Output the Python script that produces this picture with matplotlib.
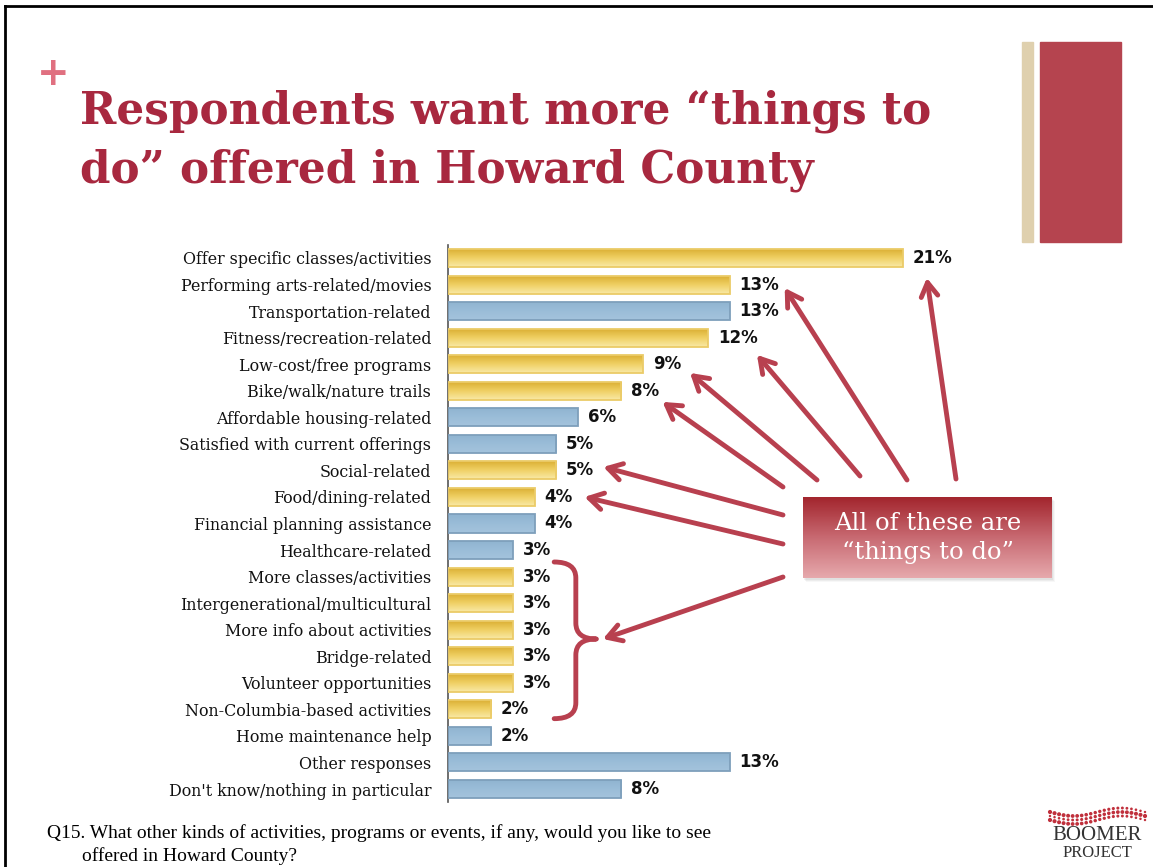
import numpy as np
import matplotlib
matplotlib.use("Agg")
import matplotlib.pyplot as plt
from matplotlib.patches import Rectangle, PathPatch
from matplotlib.path import Path
from matplotlib.colors import LinearSegmentedColormap

# datos del grafico
categorias = [
    "Offer specific classes/activities",
    "Performing arts-related/movies",
    "Transportation-related",
    "Fitness/recreation-related",
    "Low-cost/free programs",
    "Bike/walk/nature trails",
    "Affordable housing-related",
    "Satisfied with current offerings",
    "Social-related",
    "Food/dining-related",
    "Financial planning assistance",
    "Healthcare-related",
    "More classes/activities",
    "Intergenerational/multicultural",
    "More info about activities",
    "Bridge-related",
    "Volunteer opportunities",
    "Non-Columbia-based activities",
    "Home maintenance help",
    "Other responses",
    "Don't know/nothing in particular",
]
valores = [21, 13, 13, 12, 9, 8, 6, 5, 5, 4, 4, 3, 3, 3, 3, 3, 3, 2, 2, 13, 8]
# True = "cosas que hacer" (barra amarilla)
resaltado = [True, True, False, True, True, True, False, False, True, True, False,
             False, True, True, True, True, True, True, False, False, False]

titulo = "Respondents want more \u201cthings to\ndo\u201d offered in Howard County"
nota = ("Q15. What other kinds of activities, programs or events, if any, would you like to see",
        "offered in Howard County?")
caja_texto = "All of these are\n\u201cthings to do\u201d"

ROJO = "#A8283F"
FLECHA = "#B8404F"

W, H = 1153, 867
fig = plt.figure(figsize=(W / 100, H / 100), dpi=100)
fig.patch.set_facecolor("white")

# ejes principales
ax = fig.add_axes([448 / W, 1 - 802.3 / H, 650 / W, 557.6 / H])
ax.set_xlim(0, 30)
ax.set_ylim(len(valores) - 0.5, -0.5)
ax.patch.set_alpha(0)
for s in ["top", "right", "bottom"]:
    ax.spines[s].set_visible(False)
ax.spines["left"].set_color("#555555")
ax.spines["left"].set_linewidth(1.2)
ax.set_xticks([])
ax.set_yticks(range(len(categorias)))
ax.set_yticklabels(categorias, family="DejaVu Serif", fontsize=11.4, color="#111111")
ax.tick_params(axis="y", length=0, pad=12)

amarillo = LinearSegmentedColormap.from_list("am", ["#D9AC30", "#EFCF62", "#F9E9A6"])
azul = LinearSegmentedColormap.from_list("az", ["#8FB3D0", "#9ABDD8", "#A4C3DC"])
grad = np.linspace(0, 1, 64).reshape(-1, 1)

alto = 0.68
for i, (v, r) in enumerate(zip(valores, resaltado)):
    borde = "#EBCB68" if r else "#7E9FBB"
    bar = ax.barh(i, v, height=alto, color="none", edgecolor=borde, linewidth=1.3, zorder=3)[0]
    im = ax.imshow(grad, cmap=amarillo if r else azul, aspect="auto",
                   extent=(0, v, i + alto / 2, i - alto / 2), origin="upper", zorder=2)
    im.set_clip_path(bar)
    ax.text(v + 0.45, i, f"{v}%", va="center", ha="left", fontsize=12,
            fontweight="bold", family="DejaVu Sans", color="#111111")
ax.set_xlim(0, 30)
ax.set_ylim(len(valores) - 0.5, -0.5)

# capa superpuesta en pixeles
ov = fig.add_axes([0, 0, 1, 1])
ov.set_xlim(0, W)
ov.set_ylim(H, 0)
ov.axis("off")
ov.patch.set_alpha(0)

# marco
ov.plot([5, 5], [6, H], color="black", lw=2)
ov.plot([5, W], [6, 6], color="black", lw=2)

# decoracion derecha
ov.add_patch(Rectangle((1022, 42), 11, 200, color="#DFD0AE"))
ov.add_patch(Rectangle((1040, 42), 81, 200, color="#B5444F"))

# titulo
ov.text(53, 74, "+", color="#E07080", fontsize=28, fontweight="bold",
        ha="center", va="center", family="DejaVu Sans")
ov.text(80, 183, titulo, color=ROJO, fontsize=31.5, fontweight="bold",
        family="DejaVu Serif", ha="left", va="baseline", linespacing=1.48)

# flechas hacia las etiquetas
flechas = [
    (0, 1.1, 0.75, 956, 479),
    (1, 2.54, 0.13, 907, 480),
    (3, 2.26, 0.65, 860, 476),
    (4, 2.17, 0.33, 817, 480),
    (5, 1.9, 0.42, 783, 487),
    (8, 2.17, -0.13, 783, 515),
    (9, 2.3, 0.0, 783, 544),
]
estilo = "->,head_length=1.0,head_width=0.6"
for fila, dx, dy, tx, ty in flechas:
    ov.annotate("", xy=(valores[fila] + dx, fila + dy), xycoords=ax.transData,
                xytext=(tx, ty), textcoords="data",
                arrowprops=dict(arrowstyle=estilo, color=FLECHA, lw=3.5,
                                shrinkA=0, shrinkB=0))
# flecha hacia la llave
ov.annotate("", xy=(7.15, 14.35), xycoords=ax.transData, xytext=(783, 577),
            textcoords="data",
            arrowprops=dict(arrowstyle=estilo, color=FLECHA, lw=3.5, shrinkA=0, shrinkB=0))

# llave
x0, x1, xp = 4.9, 5.9, 6.85
top, mid, bot = 11.45, 14.35, 17.35
verts = [(x0, top), (x1, top), (x1, top + 0.6), (x1, mid - 0.6), (x1, mid), (xp, mid),
         (x1, mid), (x1, mid + 0.6), (x1, bot - 0.6), (x1, bot), (x0, bot)]
codes = [Path.MOVETO, Path.CURVE3, Path.CURVE3, Path.LINETO, Path.CURVE3, Path.CURVE3,
         Path.CURVE3, Path.CURVE3, Path.LINETO, Path.CURVE3, Path.CURVE3]
ax.add_patch(PathPatch(Path(verts, codes), fill=False, edgecolor=FLECHA, lw=3.5,
                       capstyle="round", joinstyle="round", clip_on=False, zorder=5))

# caja de texto con degradado y sombra suave
for k, a in enumerate([0.10, 0.08, 0.06]):
    ov.add_patch(Rectangle((803 + 1 + k, 497 + 2 + k), 249, 81, color="#777777",
                           alpha=a, zorder=4, lw=0))
rojo_grad = LinearSegmentedColormap.from_list("rg", ["#A3262E", "#C86A72", "#E6A8AC"])
ov.imshow(grad, cmap=rojo_grad, extent=(803, 1052, 578, 497), aspect="auto", zorder=5)
ov.text(927.5, 538, caja_texto, color="white", fontsize=17.5, family="DejaVu Serif",
        ha="center", va="center", linespacing=1.3, zorder=6)
ov.set_xlim(0, W)
ov.set_ylim(H, 0)

# nota al pie
ov.text(47, 833, nota[0], fontsize=14, family="Liberation Serif", va="center", ha="left")
ov.text(82, 856, nota[1], fontsize=14, family="Liberation Serif", va="center", ha="left")

# logo
xs = np.linspace(1050, 1145, 22)
for k, amp in enumerate([0, 4, 8]):
    ys = 812 + amp + 4 * np.sin((xs - 1050) / 95 * 2 * np.pi)
    ov.scatter(xs, ys, s=np.linspace(9, 3, 22)[::1 if k % 2 == 0 else -1], color="#C0303C",
               zorder=6, linewidths=0)
ov.text(1097, 835, "BOOMER", fontsize=15, family="Liberation Serif", ha="center",
        va="center", color="#333333")
ov.text(1097, 853, "PROJECT", fontsize=12, family="Liberation Serif", ha="center",
        va="center", color="#333333")

fig.savefig("out.png", dpi=100)
